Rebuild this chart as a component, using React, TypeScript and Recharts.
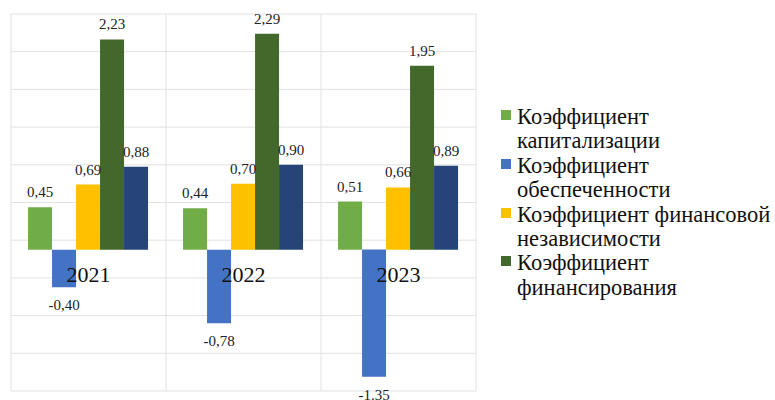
import { ComposedChart, Bar, XAxis, YAxis, CartesianGrid, Legend, LabelList, ReferenceDot } from 'recharts'

const years = ['2021', '2022', '2023']
const capitalization = [0.45, 0.44, 0.51]
const provision = [-0.4, -0.78, -1.35]
const independence = [0.69, 0.7, 0.66]
const financing = [2.23, 2.29, 1.95]
const extra = [0.88, 0.9, 0.89]
const provisionLabels = ['-0,40', '-0,78', '-1.35']
const yTicks = [2.5, 2.1, 1.7, 1.3, 0.9, 0.5, 0.1, -0.3, -0.7, -1.1, -1.5]

const series = [
  { key: 'cap', lines: ['Коэффициент', 'капитализации'], color: '#70AD47' },
  { key: 'prov', lines: ['Коэффициент', 'обеспеченности'], color: '#4472C4' },
  { key: 'ind', lines: ['Коэффициент финансовой', 'независимости'], color: '#FFC000' },
  { key: 'fin', lines: ['Коэффициент', 'финансирования'], color: '#43682B' },
  { key: 'ext', lines: [], color: '#264478' },
]

const data = years.map((year, i) => ({
  year,
  cap: capitalization[i],
  prov: provision[i],
  ind: independence[i],
  fin: financing[i],
  ext: extra[i],
  provLabel: provisionLabels[i],
}))

const FONT = '"Liberation Serif", serif'

const fmt = (v: number) => v.toFixed(2).replace('.', ',')

function ValueLabel(props: any) {
  const { x, y, width, height, value } = props
  const top = Math.min(y, y + height)
  const bottom = Math.max(y, y + height)
  const neg = typeof value === 'string' ? value.startsWith('-') : value < 0
  const text = typeof value === 'string' ? value : fmt(value)
  return (
    <text
      x={x + width / 2}
      y={neg ? bottom + 18 : top - 15}
      textAnchor="middle"
      dominantBaseline="central"
      style={{ fontFamily: FONT, fontSize: 15 }}
      fill="#222"
    >
      {text}
    </text>
  )
}

// legend drawn by hand so the wrapping matches the picture
function LegendBox() {
  return (
    <div style={{ paddingTop: 91, paddingLeft: 25, fontFamily: FONT, fontSize: 22.5, lineHeight: '24.4px', color: '#111' }}>
      {series
        .filter((s) => s.lines.length > 0)
        .map((s) => (
          <div key={s.key} style={{ position: 'relative', paddingLeft: 16, whiteSpace: 'nowrap', fontFamily: FONT }}>
            <span
              style={{
                position: 'absolute',
                left: 0,
                top: 5,
                width: 10,
                height: 10,
                background: s.color,
              }}
            />
            {s.lines.map((l) => (
              <div key={l}>{l}</div>
            ))}
          </div>
        ))}
    </div>
  )
}

export default function App() {
  return (
    <div style={{ position: 'absolute', left: 0, top: 0, background: '#fff', fontFamily: FONT }}>
      <ComposedChart
        width={775}
        height={400}
        data={data}
        margin={{ top: 14, right: 0, bottom: 9, left: 11 }}
        barCategoryGap="11%"
        barGap={0}
        style={{ fontFamily: FONT }}
      >
        <CartesianGrid
          stroke="#e2e2e2"
          verticalCoordinatesGenerator={({ offset }: any) =>
            [0, 1, 2, 3].map((i) => offset.left + (offset.width * i) / years.length)
          }
        />
        <XAxis dataKey="year" hide />
        <YAxis hide domain={[-1.5, 2.5]} ticks={yTicks} type="number" />
        <Legend
          layout="vertical"
          align="right"
          verticalAlign="top"
          width={299}
          content={() => <LegendBox />}
        />
        {series.map((s) => (
          <Bar
            key={s.key}
            dataKey={s.key}
            name={s.lines.join(' ')}
            fill={s.color}
            isAnimationActive={false}
          >
            <LabelList
              dataKey={s.key === 'prov' ? 'provLabel' : s.key}
              content={(p: any) => <ValueLabel {...p} />}
            />
          </Bar>
        ))}
        {years.map((y) => (
          <ReferenceDot
            key={y}
            x={y}
            y={0}
            r={0}
            fill="none"
            stroke="none"
            label={{ value: y, position: 'bottom', offset: 17, fontSize: 22, fontFamily: FONT, fill: '#111' }}
          />
        ))}
      </ComposedChart>
    </div>
  )
}
